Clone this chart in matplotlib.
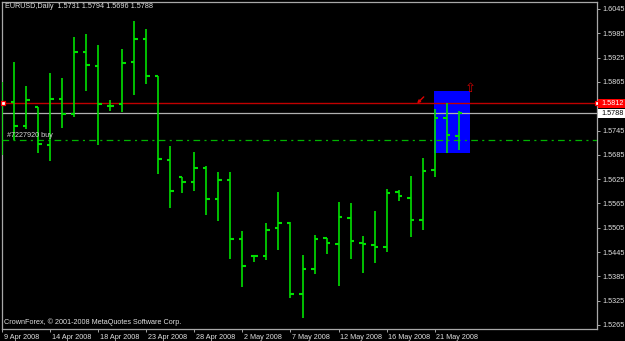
import matplotlib
matplotlib.use('Agg')
import matplotlib.pyplot as plt
import matplotlib.transforms as mtransforms
from matplotlib.patches import Rectangle

plt.rcParams['font.family'] = ['Liberation Sans', 'DejaVu Sans']
plt.rcParams['lines.scale_dashes'] = False

# ---------------- data ----------------
symbol_title = "EURUSD,Daily  1.5731 1.5794 1.5696 1.5788"
copyright_text = "CrownForex, \u00a9 2001-2008 MetaQuotes Software Corp."

opens = [1.5760, 1.5815, 1.5757, 1.5802, 1.5710, 1.5824, 1.5786, 1.5938, 1.5905, 1.5806,
         1.5810, 1.5913, 1.5972, 1.5880, 1.5673, 1.5630, 1.5618, 1.5653, 1.5576, 1.5622,
         1.5477, 1.5435, 1.5435, 1.5504, 1.5516, 1.5342, 1.5402, 1.5480, 1.5465, 1.5530,
         1.5468, 1.5463, 1.5457, 1.5593, 1.5579, 1.5525, 1.5648, 1.5777, 1.5731]
highs = [1.5866, 1.5914, 1.5855, 1.5802, 1.5886, 1.5875, 1.5977, 1.5983, 1.5956, 1.5820,
         1.5947, 1.6015, 1.5996, 1.5880, 1.5707, 1.5630, 1.5691, 1.5658, 1.5642, 1.5642,
         1.5497, 1.5436, 1.5517, 1.5593, 1.5519, 1.5438, 1.5486, 1.5480, 1.5569, 1.5565,
         1.5485, 1.5546, 1.5601, 1.5598, 1.5633, 1.5678, 1.5797, 1.5814, 1.5794]
lows = [1.5685, 1.5722, 1.5750, 1.5690, 1.5670, 1.5751, 1.5778, 1.5843, 1.5709, 1.5794,
        1.5791, 1.5833, 1.5859, 1.5638, 1.5554, 1.5592, 1.5595, 1.5537, 1.5522, 1.5429,
        1.5358, 1.5421, 1.5425, 1.5451, 1.5331, 1.5282, 1.5391, 1.5440, 1.5362, 1.5428,
        1.5393, 1.5417, 1.5446, 1.5570, 1.5483, 1.5500, 1.5630, 1.5690, 1.5696]
closes = [1.5814, 1.5756, 1.5820, 1.5711, 1.5824, 1.5786, 1.5938, 1.5907, 1.5811, 1.5806,
          1.5912, 1.5972, 1.5880, 1.5675, 1.5596, 1.5618, 1.5653, 1.5576, 1.5624, 1.5478,
          1.5411, 1.5436, 1.5500, 1.5517, 1.5341, 1.5402, 1.5478, 1.5467, 1.5532, 1.5473,
          1.5465, 1.5457, 1.5591, 1.5583, 1.5525, 1.5646, 1.5777, 1.5733, 1.5788]

tick_bars = [0, 4, 8, 12, 16, 20, 24, 28, 32, 36]
tick_labels = ["9 Apr 2008", "14 Apr 2008", "18 Apr 2008", "23 Apr 2008", "28 Apr 2008",
               "2 May 2008", "7 May 2008", "12 May 2008", "16 May 2008", "21 May 2008"]
price_ticks = [1.6045, 1.5985, 1.5925, 1.5865, 1.5745, 1.5685, 1.5625, 1.5565,
               1.5505, 1.5445, 1.5385, 1.5325, 1.5265]

red_line_price = 1.5812
bid_price = 1.5788
order_price = 1.5722
order_label = "#7227920 buy"
rect_bars = [36, 39]
rect_prices = [1.5689, 1.5843]
entry_arrow = [34.55, 1.5812]
up_arrow = [39.0, 1.5849]

# ---------------- figure ----------------
W, H = 625, 341
fig = plt.figure(figsize=(W / 100, H / 100), dpi=100, facecolor='black')
ax = fig.add_axes([2 / W, 12 / H, 595 / W, 327.5 / H])
ax.set_facecolor('black')
ax.set_xlim(-0.04, 49.54)
ax.set_ylim(1.52551, 1.60635)

green = '#00e000'
n = len(opens)
xs = list(range(n))
tick_len = 0.33

# blue rectangle (behind the bars)
ax.add_patch(Rectangle((rect_bars[0] - 0.05, rect_prices[0]), rect_bars[1] - rect_bars[0],
                       rect_prices[1] - rect_prices[0], facecolor='#0000ff',
                       edgecolor='none', zorder=1))

# horizontal lines
ax.axhline(red_line_price, color='#c00000', lw=1.0, zorder=3)
ax.axhline(bid_price, color='#b0b0b0', lw=0.9, zorder=3)
ax.axhline(order_price, color='#00b400', lw=0.9, zorder=3,
           linestyle=(0, (4.8, 3.1, 1.5, 3.1)))

# OHLC bars
ax.vlines(xs, lows, highs, color=green, lw=1.2, zorder=4)
ax.hlines(opens, [x - tick_len for x in xs], xs, color=green, lw=1.5, zorder=4)
ax.hlines(closes, xs, [x + tick_len for x in xs], color=green, lw=1.5, zorder=4)

# small squares at ends of red line
ax.plot([ax.get_xlim()[0] + 0.05, ax.get_xlim()[1]], [red_line_price, red_line_price],
        linestyle='none', marker='s', markersize=3.2, markerfacecolor='white',
        markeredgecolor='#ff0000', markeredgewidth=0.9, clip_on=False, zorder=6)

# order label
ax.text(0.35, order_price + 0.0003, order_label, color='#d8d8d8', fontsize=5.2,
        ha='left', va='bottom', zorder=5)

# arrows
ax.annotate('', xy=(entry_arrow[0], entry_arrow[1]),
            xytext=(entry_arrow[0] + 0.55, entry_arrow[1] + 0.0016),
            arrowprops=dict(arrowstyle='-|>', color='#e00000', lw=1.0,
                            mutation_scale=4, shrinkA=0, shrinkB=0), zorder=6)
ax.text(up_arrow[0], up_arrow[1], '\u21e7', color='#d00000', fontsize=9.5,
        family='DejaVu Sans', ha='center', va='center', zorder=6)

# spines
for s in ax.spines.values():
    s.set_color('#a8a8a8')
    s.set_linewidth(0.9)

# axes ticks
ax.set_xticks(tick_bars)
ax.set_xticklabels(tick_labels)
ax.tick_params(axis='x', direction='out', length=2.5, width=0.7, color='#a8a8a8',
               labelsize=5.2, labelcolor='#e0e0e0', pad=1)
offset = mtransforms.ScaledTranslation(1.5 / 100, 0, fig.dpi_scale_trans)
for lab in ax.get_xticklabels():
    lab.set_ha('left')
    lab.set_transform(lab.get_transform() + offset)

ax.yaxis.tick_right()
ax.set_yticks(price_ticks)
ax.set_yticklabels([f"{p:.4f}" for p in price_ticks])
ax.tick_params(axis='y', direction='out', length=2.5, width=0.7, color='#a8a8a8',
               labelsize=5.2, labelcolor='#e0e0e0', pad=1.5)

# right price labels
blend = mtransforms.blended_transform_factory(ax.transAxes, ax.transData)
px = 1 / 4051
ax.add_patch(Rectangle((1 + 1 / 595, red_line_price - 4.3 * px), 30 / 595, 8.6 * px,
                       transform=blend, facecolor='#ff0000', edgecolor='none',
                       clip_on=False, zorder=7))
ax.text(1 + 4 / 595, red_line_price, f"{red_line_price:.4f}", transform=blend,
        color='white', fontsize=5.2, ha='left', va='center', clip_on=False, zorder=8)
ax.add_patch(Rectangle((1 + 1 / 595, bid_price - 4.8 * px), 30 / 595, 9.2 * px,
                       transform=blend, facecolor='white', edgecolor='none',
                       clip_on=False, zorder=7))
ax.text(1 + 4 / 595, bid_price, f"{bid_price:.4f}", transform=blend,
        color='black', fontsize=5.2, ha='left', va='center', clip_on=False, zorder=8)

# title and copyright
fig.text(5 / W, 1 - 7 / H, symbol_title, color='#e0e0e0', fontsize=5.2, ha='left', va='center')
fig.text(4 / W, 1 - 322 / H, copyright_text, color='#e0e0e0', fontsize=5.2, ha='left', va='center')

fig.savefig('out.png', dpi=100, facecolor='black')
